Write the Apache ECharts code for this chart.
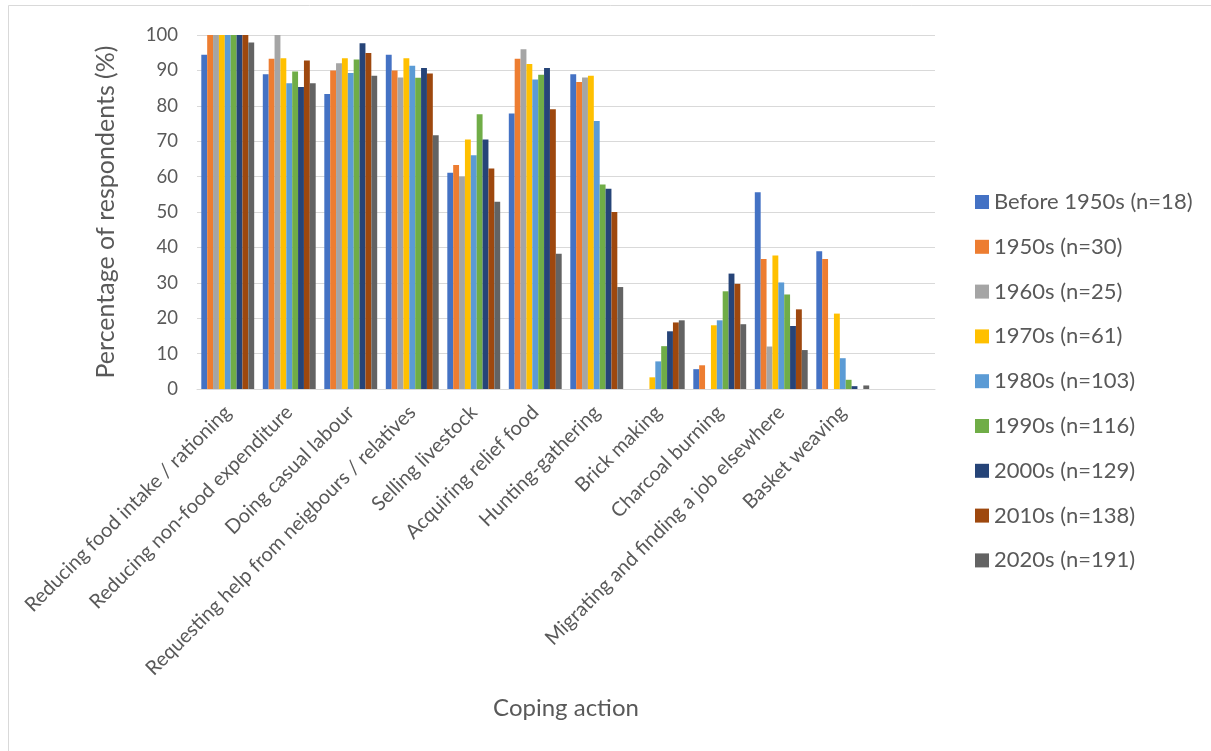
<!DOCTYPE html>
<html>
<head>
<meta charset="utf-8">
<script src="https://cdn.jsdelivr.net/npm/echarts@6/dist/echarts.min.js"></script>
<style>
  html, body { margin: 0; padding: 0; background: #ffffff; }
  #chart { width: 1211px; height: 751px; }
</style>
</head>
<body>
<div id="chart"></div>
<script>
// Coping actions (the trailing blank slot keeps the empty space at the right of the plot)
const categories = [
  'Reducing food intake / rationing',
  'Reducing non-food expenditure',
  'Doing casual labour',
  'Requesting help from neigbours / relatives',
  'Selling livestock',
  'Acquiring relief food',
  'Hunting-gathering',
  'Brick making',
  'Charcoal burning',
  'Migrating and finding a job elsewhere',
  'Basket weaving',
  ''
];

const seriesNames = [
  'Before 1950s (n=18)', '1950s (n=30)', '1960s (n=25)', '1970s (n=61)',
  '1980s (n=103)', '1990s (n=116)', '2000s (n=129)', '2010s (n=138)', '2020s (n=191)'
];

// Percentage of respondents per decade
const before1950s = [94.4, 88.9, 83.3, 94.4, 61.1, 77.8, 88.9, 0, 5.6, 55.6, 38.9];
const d1950s = [100, 93.3, 90.0, 90.0, 63.3, 93.3, 86.7, 0, 6.7, 36.7, 36.7];
const d1960s = [100, 100, 92.0, 88.0, 60.0, 96.0, 88.0, 0, 0, 12.0, 0];
const d1970s = [100, 93.4, 93.4, 93.4, 70.5, 91.8, 88.5, 3.3, 18.0, 37.7, 21.3];
const d1980s = [100, 86.4, 89.3, 91.3, 66.0, 87.4, 75.7, 7.8, 19.4, 30.1, 8.7];
const d1990s = [100, 89.7, 93.1, 87.9, 77.6, 88.8, 57.8, 12.1, 27.6, 26.7, 2.6];
const d2000s = [100, 85.3, 97.7, 90.7, 70.5, 90.7, 56.6, 16.3, 32.6, 17.8, 0.8];
const d2010s = [100, 92.8, 94.9, 89.1, 62.3, 79.0, 50.0, 18.8, 29.7, 22.5, 0];
const d2020s = [97.9, 86.4, 88.5, 71.7, 52.9, 38.2, 28.8, 19.4, 18.3, 11.0, 1.0];

const seriesData = [before1950s, d1950s, d1960s, d1970s, d1980s, d1990s, d2000s, d2010s, d2020s];
const colors = ['#4472C4', '#ED7D31', '#A5A5A5', '#FFC000', '#5B9BD5', '#70AD47', '#264478', '#9E480E', '#636363'];

const FONT = 'Lato, "Noto Sans", sans-serif';
const TEXT = '#595959';

const chart = echarts.init(document.getElementById('chart'), null, { renderer: 'canvas' });

chart.setOption({
  backgroundColor: '#ffffff',
  animation: false,
  color: colors,
  textStyle: { fontFamily: FONT },
  graphic: [{
    type: 'rect',
    shape: { x: 8.5, y: 5.5, width: 1400, height: 900 },
    style: { fill: 'none', stroke: '#d9d9d9', lineWidth: 1 },
    silent: true,
    z: -10
  }],
  grid: { left: 197, right: 276, top: 35, bottom: 362, containLabel: false },
  legend: {
    orient: 'vertical',
    left: 970,
    top: 186,
    icon: 'rect',
    itemWidth: 14,
    itemHeight: 14,
    itemGap: 22.8,
    textStyle: { color: TEXT, fontSize: 22, fontFamily: FONT },
    data: seriesNames
  },
  xAxis: {
    type: 'category',
    data: categories,
    name: 'Coping action',
    nameLocation: 'middle',
    nameGap: 307,
    nameTextStyle: { color: TEXT, fontSize: 24, fontFamily: FONT },
    axisLine: { lineStyle: { color: '#d9d9d9', width: 1 } },
    axisTick: { show: false },
    axisLabel: {
      interval: 0,
      rotate: 45,
      margin: 20,
      color: TEXT,
      fontSize: 20,
      fontFamily: FONT
    }
  },
  yAxis: {
    type: 'value',
    min: 0,
    max: 100,
    interval: 10,
    name: 'Percentage of respondents (%)',
    nameLocation: 'middle',
    nameGap: 79,
    nameTextStyle: { color: TEXT, fontSize: 25, fontFamily: FONT },
    axisLine: { show: false },
    axisTick: { show: false },
    splitLine: { lineStyle: { color: '#d9d9d9', width: 1 } },
    axisLabel: { color: TEXT, fontSize: 18.5, fontFamily: FONT, margin: 19 }
  },
  series: seriesNames.map((name, i) => ({
    name: name,
    type: 'bar',
    data: seriesData[i],
    barGap: '0%',
    barCategoryGap: '14%',
    itemStyle: { color: colors[i] }
  }))
});
</script>
</body>
</html>
